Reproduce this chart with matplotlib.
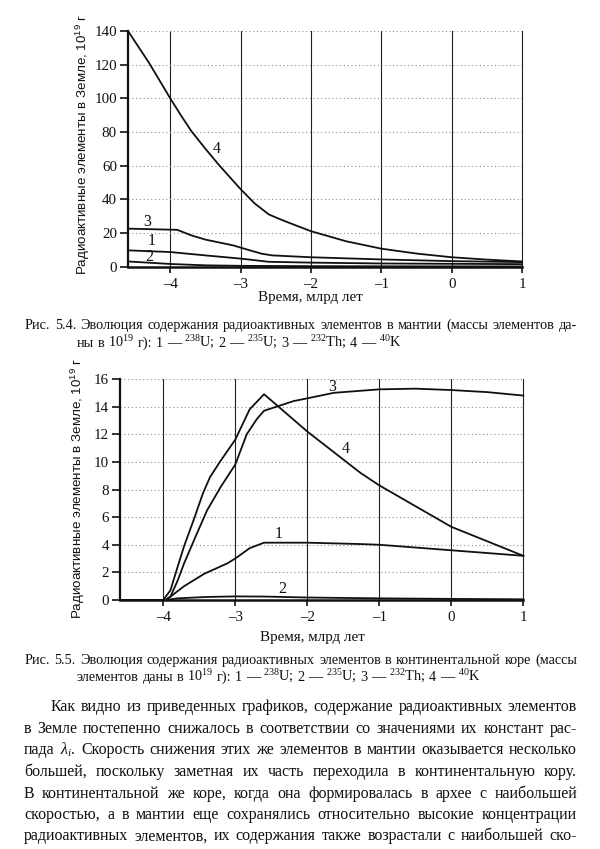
import matplotlib
matplotlib.use("Agg")
import matplotlib.pyplot as plt

plt.rcParams['font.family'] = ['Liberation Serif', 'DejaVu Serif']
plt.rcParams['mathtext.fontset'] = 'custom'
plt.rcParams['mathtext.rm'] = 'Liberation Serif'
plt.rcParams['mathtext.it'] = 'Liberation Serif:italic'
plt.rcParams['mathtext.bf'] = 'Liberation Serif:bold'

# ---------------- data: Fig 5.4 (mantle) ----------------
xticks = [-4, -3, -2, -1, 0, 1]
xtick_labels = ["–4", "–3", "–2", "–1", "0", "1"]
m_yticks = [0, 20, 40, 60, 80, 100, 120, 140]

m_t_K = [-4.6, -4.45, -4.3, -4.15, -4.0, -3.85, -3.7, -3.5, -3.3, -3.0, -2.8, -2.6,
         -2.45, -2.3, -2.0, -1.5, -1.0, -0.5, 0.0, 0.5, 1.0]
m_K = [140, 130.5, 121, 110.5, 100, 90, 80.5, 70, 60, 46, 37.5, 31,
       28.3, 25.8, 21, 15, 10.6, 7.7, 5.5, 4.1, 3.0]
m_t_Th = [-4.6, -3.9, -3.7, -3.5, -3.1, -2.9, -2.7, -2.55, -2.0, -1.0, 0.0, 1.0]
m_Th = [22.5, 21.8, 18.5, 16.0, 12.5, 10.0, 7.6, 6.6, 5.5, 4.2, 3.2, 2.6]
m_t_U8 = [-4.6, -4.0, -3.5, -3.0, -2.6, -2.0, -1.0, 0.0, 1.0]
m_U8 = [9.6, 8.6, 6.6, 4.7, 2.8, 2.3, 1.8, 1.6, 1.4]
m_t_U5 = [-4.6, -4.0, -3.5, -3.0, -2.0, -1.0, 0.0, 1.0]
m_U5 = [3.0, 1.5, 0.7, 0.4, 0.2, 0.12, 0.08, 0.06]
m_labels = ["1", "2", "3", "4"]
m_label_x = [-4.27, -4.30, -4.33, -3.34]
m_label_y = [15.4, 5.9, 26.7, 70.0]

# ---------------- data: Fig 5.5 (continental crust) ----------------
c_yticks = [0, 2, 4, 6, 8, 10, 12, 14, 16]
c_t_K = [-4.6, -4.0, -3.9, -3.8, -3.71, -3.57, -3.45, -3.35, -3.2, -3.0, -2.8, -2.6,
         -2.0, -1.26, -1.0, -0.5, 0.0, 1.0]
c_K = [0, 0, 0.7, 2.4, 3.9, 5.9, 7.7, 8.9, 10.1, 11.6, 13.8, 14.9,
       12.2, 9.2, 8.3, 6.8, 5.3, 3.2]
c_t_Th = [-4.6, -3.97, -3.9, -3.8, -3.71, -3.55, -3.39, -3.2, -3.0, -2.84, -2.7, -2.6,
          -2.19, -2.0, -1.63, -1.0, -0.5, 0.0, 0.5, 1.0]
c_Th = [0, 0, 0.24, 1.4, 2.65, 4.6, 6.5, 8.2, 9.8, 12.0, 13.1, 13.7,
        14.4, 14.6, 15.0, 15.25, 15.3, 15.2, 15.05, 14.8]
c_t_U8 = [-4.6, -3.97, -3.9, -3.71, -3.43, -3.11, -3.0, -2.8, -2.6, -2.0, -1.26, -1.0, 0.0, 1.0]
c_U8 = [0, 0, 0.24, 1.0, 1.9, 2.65, 3.0, 3.75, 4.15, 4.15, 4.05, 4.0, 3.6, 3.2]
c_t_U5 = [-4.6, -3.97, -3.8, -3.4, -3.0, -2.6, -2.0, -1.0, 0.0, 1.0]
c_U5 = [0, 0, 0.12, 0.22, 0.26, 0.25, 0.18, 0.12, 0.08, 0.05]
c_labels = ["1", "2", "3", "4"]
c_label_x = [-2.40, -2.35, -1.66, -1.46]
c_label_y = [4.8, 0.77, 15.4, 10.9]

ylabel_text = "Радиоактивные элементы в Земле, 10$\\mathregular{^{19}}$ г"
xlabel_text = "Время, млрд лет"

cap1_l1 = "Рис. 5.4. Эволюция содержания радиоактивных элементов в мантии (массы элементов да-"
cap1_l2 = ("ны в 10$\\mathregular{^{19}}$ г): 1 — $\\mathregular{^{238}}$U; 2 — $\\mathregular{^{235}}$U; "
           "3 — $\\mathregular{^{232}}$Th; 4 — $\\mathregular{^{40}}$K")
cap2_l1 = "Рис. 5.5. Эволюция содержания радиоактивных элементов в континентальной коре (массы"
cap2_l2 = ("элементов даны в 10$\\mathregular{^{19}}$ г): 1 — $\\mathregular{^{238}}$U; 2 — $\\mathregular{^{235}}$U; "
           "3 — $\\mathregular{^{232}}$Th; 4 — $\\mathregular{^{40}}$K")
para = [
    "Как видно из приведенных графиков, содержание радиоактивных элементов",
    "в Земле постепенно снижалось в соответствии со значениями их констант рас-",
    "пада $\\lambda_i$. Скорость снижения этих же элементов в мантии оказывается несколько",
    "большей, поскольку заметная их часть переходила в континентальную кору.",
    "В континентальной же коре, когда она формировалась в архее с наибольшей",
    "скоростью, а в мантии еще сохранялись относительно высокие концентрации",
    "радиоактивных элементов, их содержания также возрастали с наибольшей ско-",
]

W, H = 600, 849
fig = plt.figure(figsize=(W / 100, H / 100), dpi=100)
fig.patch.set_facecolor('white')
INK = '#101010'


def fx(px):
    return px / W


def fy(py):
    return 1 - py / H


def style_axes(ax, yticks, ymax):
    ax.set_xlim(-4.6, 1)
    ax.set_ylim(0, ymax)
    ax.set_xticks(xticks)
    ax.set_xticklabels(xtick_labels)
    ax.set_yticks(yticks)
    ax.set_yticklabels([str(v) for v in yticks])
    for s in ['top', 'right']:
        ax.spines[s].set_visible(False)
    ax.spines['left'].set_linewidth(1.6)
    ax.spines['bottom'].set_linewidth(1.8)
    ax.spines['left'].set_color(INK)
    ax.spines['bottom'].set_color(INK)
    ax.tick_params(axis='both', direction='out', colors=INK, labelsize=10.8, width=1.2)
    ax.tick_params(axis='y', length=6, pad=2)
    ax.tick_params(axis='x', length=4, pad=4)
    for v in xticks:
        ax.axvline(v, color='#222222', lw=0.8, zorder=1, clip_on=False)
    for v in yticks[1:]:
        ax.axhline(v, color='#909090', lw=0.8, ls=(0, (1, 2.4)), zorder=1)
    for lab in ax.get_xticklabels() + ax.get_yticklabels():
        lab.set_fontfamily('Liberation Serif')


# ---------- chart 1 ----------
ax1 = fig.add_axes([fx(128), fy(266.5), fx(522 - 128), (266.5 - 31) / H])
style_axes(ax1, m_yticks, 140)
for t, v in [(m_t_K, m_K), (m_t_Th, m_Th), (m_t_U8, m_U8), (m_t_U5, m_U5)]:
    ax1.plot(t, v, color=INK, lw=1.3, zorder=3, clip_on=False, solid_joinstyle='round')
for lab, x, y in zip(m_labels, m_label_x, m_label_y):
    ax1.text(x, y, lab, ha='center', va='center', fontsize=11.5, color=INK)

# ---------- chart 2 ----------
ax2 = fig.add_axes([fx(120), fy(600), fx(523.3 - 120), (600 - 379) / H])
style_axes(ax2, c_yticks, 16)
for t, v in [(c_t_K, c_K), (c_t_Th, c_Th), (c_t_U8, c_U8), (c_t_U5, c_U5)]:
    ax2.plot(t, v, color=INK, lw=1.3, zorder=3, clip_on=False, solid_joinstyle='round')
for lab, x, y in zip(c_labels, c_label_x, c_label_y):
    ax2.text(x, y, lab, ha='center', va='center', fontsize=11.5, color=INK)

# axis labels
fig.text(fx(83), fy(145), ylabel_text, rotation=90, ha='center', va='center',
         fontsize=9.6, family='Liberation Sans', color=INK)
fig.text(fx(78), fy(489), ylabel_text, rotation=90, ha='center', va='center',
         fontsize=9.6, family='Liberation Sans', color=INK)
fig.text(fx(310), fy(297), xlabel_text, ha='center', va='center', fontsize=10.8, color=INK)
fig.text(fx(312), fy(637), xlabel_text, ha='center', va='center', fontsize=10.8, color=INK)

renderer = fig.canvas.get_renderer()


def justified(line, x0, x1, ybase, size, justify=True):
    words = line.split(' ')
    texts = [fig.text(0, fy(ybase), w, fontsize=size, color=INK, ha='left', va='baseline')
             for w in words]
    widths = [t.get_window_extent(renderer).width for t in texts]
    t1 = fig.text(0, 0, "a a", fontsize=size)
    t2 = fig.text(0, 0, "aa", fontsize=size)
    space = t1.get_window_extent(renderer).width - t2.get_window_extent(renderer).width
    t1.remove()
    t2.remove()
    if justify and len(words) > 1:
        gap = (x1 - x0 - sum(widths)) / (len(words) - 1)
    else:
        gap = space
    x = x0
    for t, w in zip(texts, widths):
        t.set_x(fx(x))
        x += w + gap


CAP = 10.3
justified(cap1_l1, 25, 577, 329, CAP)
justified(cap1_l2, 77, 577, 347, CAP, justify=False)
justified(cap2_l1, 25, 577, 664, CAP)
justified(cap2_l2, 77, 577, 681, CAP, justify=False)

PAR = 11.5
bases = [711, 733, 754.5, 776, 797.5, 819, 840.5]
for i, (line, yb) in enumerate(zip(para, bases)):
    justified(line, 51 if i == 0 else 24, 577, yb, PAR)

fig.savefig("out.png", dpi=100)
